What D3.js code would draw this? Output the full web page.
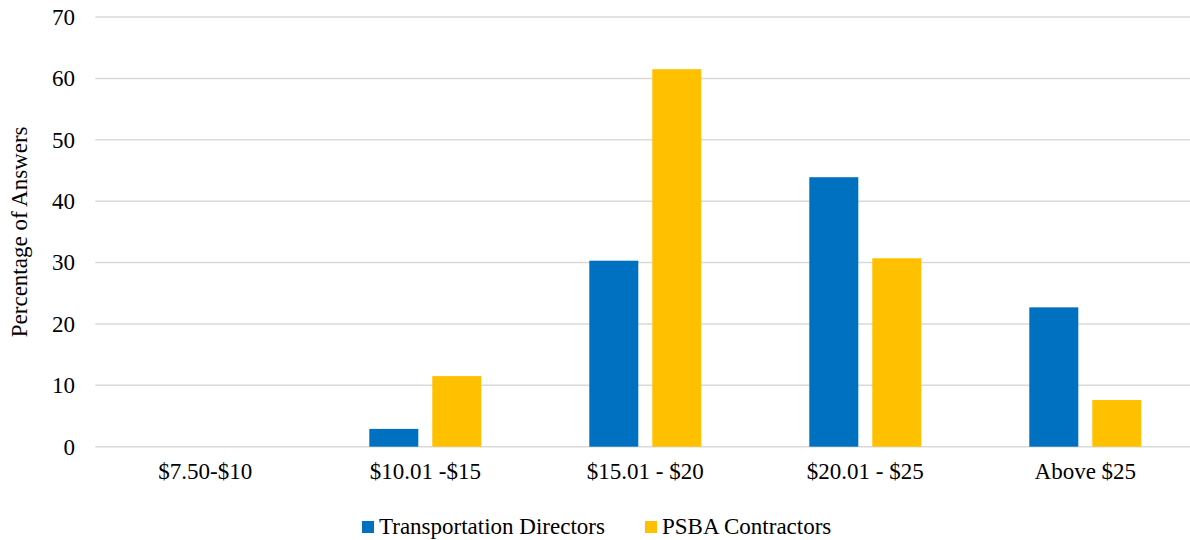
<!DOCTYPE html>
<html>
<head>
<meta charset="utf-8">
<script src="https://cdn.jsdelivr.net/npm/d3@7"></script>
<style>
  html, body { margin: 0; padding: 0; background: #fff; }
  svg { display: block; }
  svg text { font-family: "Times New Roman", "Liberation Serif", Tinos, "DejaVu Serif", serif !important; }
</style>
</head>
<body>
<svg id="chart" width="1190" height="540"></svg>
<script>
const categories = ["$7.50-$10", "$10.01 -$15", "$15.01 - $20", "$20.01 - $25", "Above $25"];
const seriesNames = ["Transportation Directors", "PSBA Contractors"];
const transportationDirectors = [0, 2.9, 30.3, 43.9, 22.7];
const psbaContractors = [0, 11.5, 61.5, 30.7, 7.6];
const yTicks = [0, 10, 20, 30, 40, 50, 60, 70];
const colors = ["#0070C0", "#FFC000"];

const seriesValues = [transportationDirectors, psbaContractors];
const svg = d3.select("#chart");
const W = 1190, H = 540;
const plotLeft = 95.3, plotRight = 1195.3, plotTop = 17, plotBottom = 446.7;

const x0 = d3.scaleBand().domain(categories).range([plotLeft, plotRight]).padding(0);
const x1 = d3.scaleBand().domain(seriesNames).range([54, 166]).paddingInner(0.222).paddingOuter(0);
const y = d3.scaleLinear().domain([0, 70]).range([plotBottom, plotTop]);

// gridlines
svg.append("g").selectAll("line").data(yTicks).join("line")
  .attr("x1", plotLeft).attr("x2", W)
  .attr("y1", d => y(d)).attr("y2", d => y(d))
  .attr("stroke", "#d9d9d9").attr("stroke-width", 1.5);

// y axis labels
const yAxis = d3.axisLeft(y).tickValues(yTicks).tickSize(0).tickPadding(0);
const gy = svg.append("g").attr("transform", `translate(75,0)`).call(yAxis);
gy.select(".domain").remove();
gy.selectAll("text").attr("font-size", 23).attr("fill", "#000");

// bars
const groups = svg.append("g").selectAll("g").data(categories).join("g")
  .attr("transform", d => `translate(${x0(d)},0)`);
groups.selectAll("rect")
  .data((c, i) => seriesNames.map((s, j) => ({ s, j, v: seriesValues[j][i] })))
  .join("rect")
  .attr("x", d => x1(d.s))
  .attr("width", x1.bandwidth())
  .attr("y", d => y(d.v))
  .attr("height", d => y(0) - y(d.v))
  .attr("fill", d => colors[d.j]);

// x axis labels
const xAxis = d3.axisBottom(x0).tickSize(0).tickPadding(0);
const gx = svg.append("g").attr("transform", `translate(0,${plotBottom + 16})`).call(xAxis);
gx.select(".domain").remove();
gx.selectAll("text").attr("font-size", 23).attr("fill", "#000");

// y axis title
svg.append("text")
  .attr("transform", `translate(27,${(plotTop + plotBottom) / 2}) rotate(-90)`)
  .attr("text-anchor", "middle")
  .attr("font-size", 23)
  .attr("fill", "#000")
  .text("Percentage of Answers");

// legend
const legendX = [362, 645];
const lg = svg.append("g").selectAll("g").data(seriesNames).join("g")
  .attr("transform", (d, i) => `translate(${legendX[i]},521)`);
lg.append("rect").attr("width", 12).attr("height", 12).attr("fill", (d, i) => colors[i]);
lg.append("text").attr("x", 17).attr("y", 13).attr("font-size", 23).attr("fill", "#000").text(d => d);
</script>
</body>
</html>
